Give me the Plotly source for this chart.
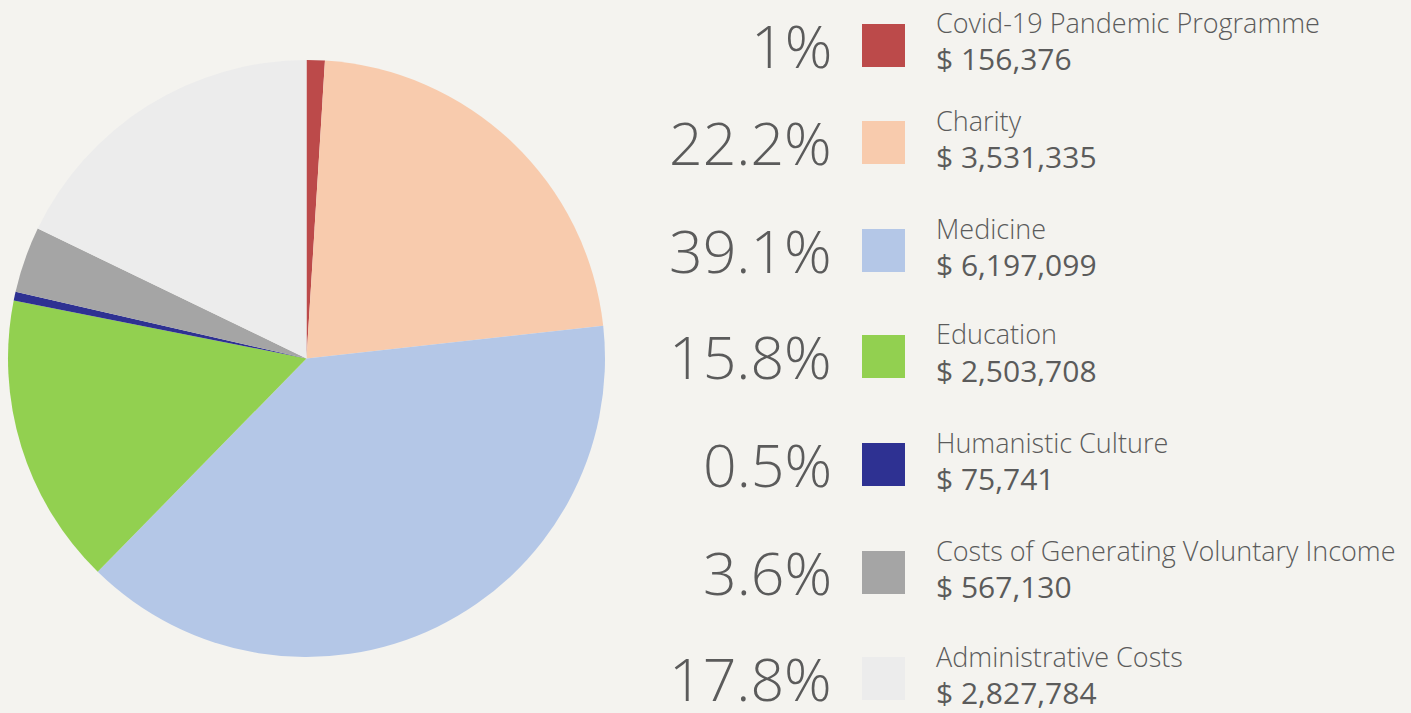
import plotly.graph_objects as go

categories = ["Covid-19 Pandemic Programme", "Charity", "Medicine", "Education",
              "Humanistic Culture", "Costs of Generating Voluntary Income", "Administrative Costs"]
amounts = [156376, 3531335, 6197099, 2503708, 75741, 567130, 2827784]
pct_labels = ["1%", "22.2%", "39.1%", "15.8%", "0.5%", "3.6%", "17.8%"]
amount_labels = ["$ 156,376", "$ 3,531,335", "$ 6,197,099", "$ 2,503,708", "$ 75,741", "$ 567,130", "$ 2,827,784"]
colors = ["#bc4a4a", "#f8cbad", "#b4c7e7", "#92d050", "#2e3192", "#a5a5a5", "#ececec"]

W, H = 1411, 713
def px(x): return x / W
def py(y): return 1 - y / H

fig = go.Figure()
fig.add_trace(go.Pie(
    labels=categories, values=amounts, sort=False, direction="clockwise", rotation=0,
    marker=dict(colors=colors, line=dict(width=0)), textinfo="none", hoverinfo="label+value+percent",
    domain=dict(x=[px(8), px(605)], y=[py(657), py(60)]), showlegend=False,
))

txt = "#5b5b5b"
font = "Open Sans"
row_tops = [24, 121, 229, 335, 443, 551, 657]
ann = []
shapes = []
for i, top in enumerate(row_tops):
    cy = top + 22
    shapes.append(dict(type="rect", xref="paper", yref="paper",
                       x0=px(862), x1=px(905), y0=py(top + 43), y1=py(top),
                       fillcolor=colors[i], line=dict(width=0)))
    ann.append(dict(x=px(834), y=py(cy - 1), xref="paper", yref="paper", text=pct_labels[i],
                    xanchor="right", yanchor="middle", showarrow=False,
                    font=dict(family=font, size=59, color=txt, weight=300)))
    ann.append(dict(x=px(934), y=py(cy - 23), xref="paper", yref="paper", text=categories[i],
                    xanchor="left", yanchor="middle", showarrow=False,
                    font=dict(family=font, size=27, color=txt, weight=300)))
    ann.append(dict(x=px(934), y=py(cy + 13), xref="paper", yref="paper", text=amount_labels[i],
                    xanchor="left", yanchor="middle", showarrow=False,
                    font=dict(family=font, size=30, color=txt, weight=400)))

fig.update_layout(
    width=W, height=H, margin=dict(l=0, r=0, t=0, b=0),
    paper_bgcolor="#f4f3ef", plot_bgcolor="#f4f3ef",
    annotations=ann, shapes=shapes,
)
fig.write_html("out.html", config={"displayModeBar": False},
               post_script="document.body.style.margin='0';document.body.style.background='#f4f3ef';")
